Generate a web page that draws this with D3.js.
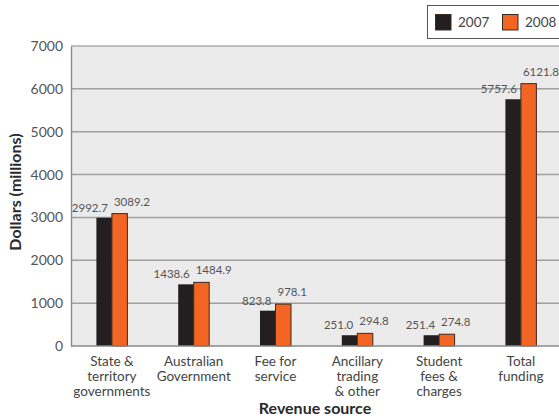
<!DOCTYPE html>
<html>
<head>
<meta charset="utf-8">
<script src="https://cdn.jsdelivr.net/npm/d3@7"></script>
<style>
  html, body { margin: 0; padding: 0; background: #fff; }
  svg { display: block; font-family: Lato, "Open Sans", sans-serif; }
</style>
</head>
<body>
<svg id="chart" width="559" height="420"></svg>
<script>
const categories = ["State &\nterritory\ngovernments", "Australian\nGovernment", "Fee for\nservice", "Ancillary\ntrading\n& other", "Student\nfees &\ncharges", "Total\nfunding"];
const series = ["2007", "2008"];
const values2007 = [2992.7, 1438.6, 823.8, 251.0, 251.4, 5757.6];
const values2008 = [3089.2, 1484.9, 978.1, 294.8, 274.8, 6121.8];
const labels2007 = ["2992.7", "1438.6", "823.8", "251.0", "251.4", "5757.6"];
const labels2008 = ["3089.2", "1484.9", "978.1", "294.8", "274.8", "6121.8"];
const yTicks = [0, 1000, 2000, 3000, 4000, 5000, 6000, 7000];
const colors = { "2007": "#231f20", "2008": "#f26522" };

(function () {
const svg = d3.select("#chart");
const pL = 71, pT = 46, pB = 346, step = 81.8;
const pR = pL + step * categories.length;

const x = d3.scaleBand().domain(categories).range([pL, pR]).padding(0);
const bw = x.bandwidth();
const pair = 31;
const x1 = d3.scaleBand().domain(series).range([(bw - pair) / 2, (bw + pair) / 2]).padding(0);
const y = d3.scaleLinear().domain([0, 7000]).range([pB, pT]);

// background
svg.append("rect").attr("x", pL).attr("y", pT).attr("width", pR - pL).attr("height", pB - pT).attr("fill", "#ebebeb");

// gridlines
svg.append("g").selectAll("line").data(yTicks.filter(t => t > 0 && t < 7000)).join("line")
  .attr("x1", pL).attr("x2", pR).attr("y1", d => y(d)).attr("y2", d => y(d))
  .attr("stroke", "#a0a0a0").attr("stroke-width", 1.5);
// top border
svg.append("line").attr("x1", pL).attr("x2", pR).attr("y1", y(7000)).attr("y2", y(7000)).attr("stroke", "#8a8a8a").attr("stroke-width", 1.2);

// y axis
const yAxis = d3.axisLeft(y).tickValues(yTicks).tickSize(0).tickPadding(8).tickFormat(d3.format("d"));
const yg = svg.append("g").attr("transform", `translate(${pL},0)`).call(yAxis);
yg.select(".domain").attr("stroke", "#8a8a8a").attr("stroke-width", 1.4);
yg.selectAll("text").attr("font-size", 14).attr("fill", "#555").attr("font-family", "Lato, sans-serif");

// bars
const data = categories.map((c, i) => ({ c, i, vals: [values2007[i], values2008[i]] }));
const groups = svg.append("g").selectAll("g").data(data).join("g")
  .attr("transform", d => `translate(${x(d.c)},0)`);
groups.selectAll("rect").data(d => series.map((s, k) => ({ s, v: d.vals[k] }))).join("rect")
  .attr("x", d => x1(d.s)).attr("width", x1.bandwidth())
  .attr("y", d => y(d.v)).attr("height", d => y(0) - y(d.v))
  .attr("fill", d => colors[d.s])
  .attr("stroke", d => d.s === "2008" ? "#3a2a22" : "none").attr("stroke-width", 1);

// bottom axis line
svg.append("line").attr("x1", pL).attr("x2", pR).attr("y1", y(0)).attr("y2", y(0)).attr("stroke", "#8a8a8a").attr("stroke-width", 1.4);

// value labels
groups.each(function(d) {
  const g = d3.select(this);
  const y07 = y(values2007[d.i]), y08 = y(values2008[d.i]);
  const collide = (y07 - 7) - y08 > 10;
  g.append("text")
    .attr("x", collide ? x1("2007") : x1("2007") + x1.bandwidth() - 4)
    .attr("y", collide ? y07 - 12 : y07 - 6)
    .attr("text-anchor", "end").attr("font-size", 11.5).attr("fill", "#555")
    .text(labels2007[d.i]);
  g.append("text")
    .attr("x", x1("2008") + 2)
    .attr("y", y08 - 8)
    .attr("text-anchor", "start").attr("font-size", 11.5).attr("fill", "#555")
    .text(labels2008[d.i]);
});

// category labels
const catG = svg.append("g");
categories.forEach(c => {
  const t = catG.append("text").attr("text-anchor", "middle").attr("font-size", 13.5).attr("fill", "#444");
  c.split("\n").forEach((line, k) => {
    t.append("tspan").attr("x", x(c) + bw / 2).attr("y", 366 + k * 15).text(line);
  });
});

// axis titles
svg.append("text").attr("x", (pL + 559) / 2).attr("y", 414).attr("text-anchor", "middle")
  .attr("font-size", 16).attr("font-weight", 700).attr("fill", "#2a2a2a").text("Revenue source");
svg.append("text").attr("transform", "translate(21,192) rotate(-90)").attr("text-anchor", "middle")
  .attr("font-size", 16).attr("font-weight", 700).attr("fill", "#2a2a2a").text("Dollars (millions)");

// legend
const lg = svg.append("g");
lg.append("rect").attr("x", 427.5).attr("y", 5.5).attr("width", 140).attr("height", 33).attr("fill", "#fff").attr("stroke", "#555").attr("stroke-width", 1);
const legX = [435, 502];
series.forEach((s, k) => {
  lg.append("rect").attr("x", legX[k] + 0.5).attr("y", 14.5).attr("width", 15.5).attr("height", 15.5)
    .attr("fill", colors[s]).attr("stroke", "#3a2a22").attr("stroke-width", 1);
  lg.append("text").attr("x", legX[k] + 23).attr("y", 27).attr("font-size", 13.5).attr("fill", "#444").text(s);
});
})();
</script>
</body>
</html>
